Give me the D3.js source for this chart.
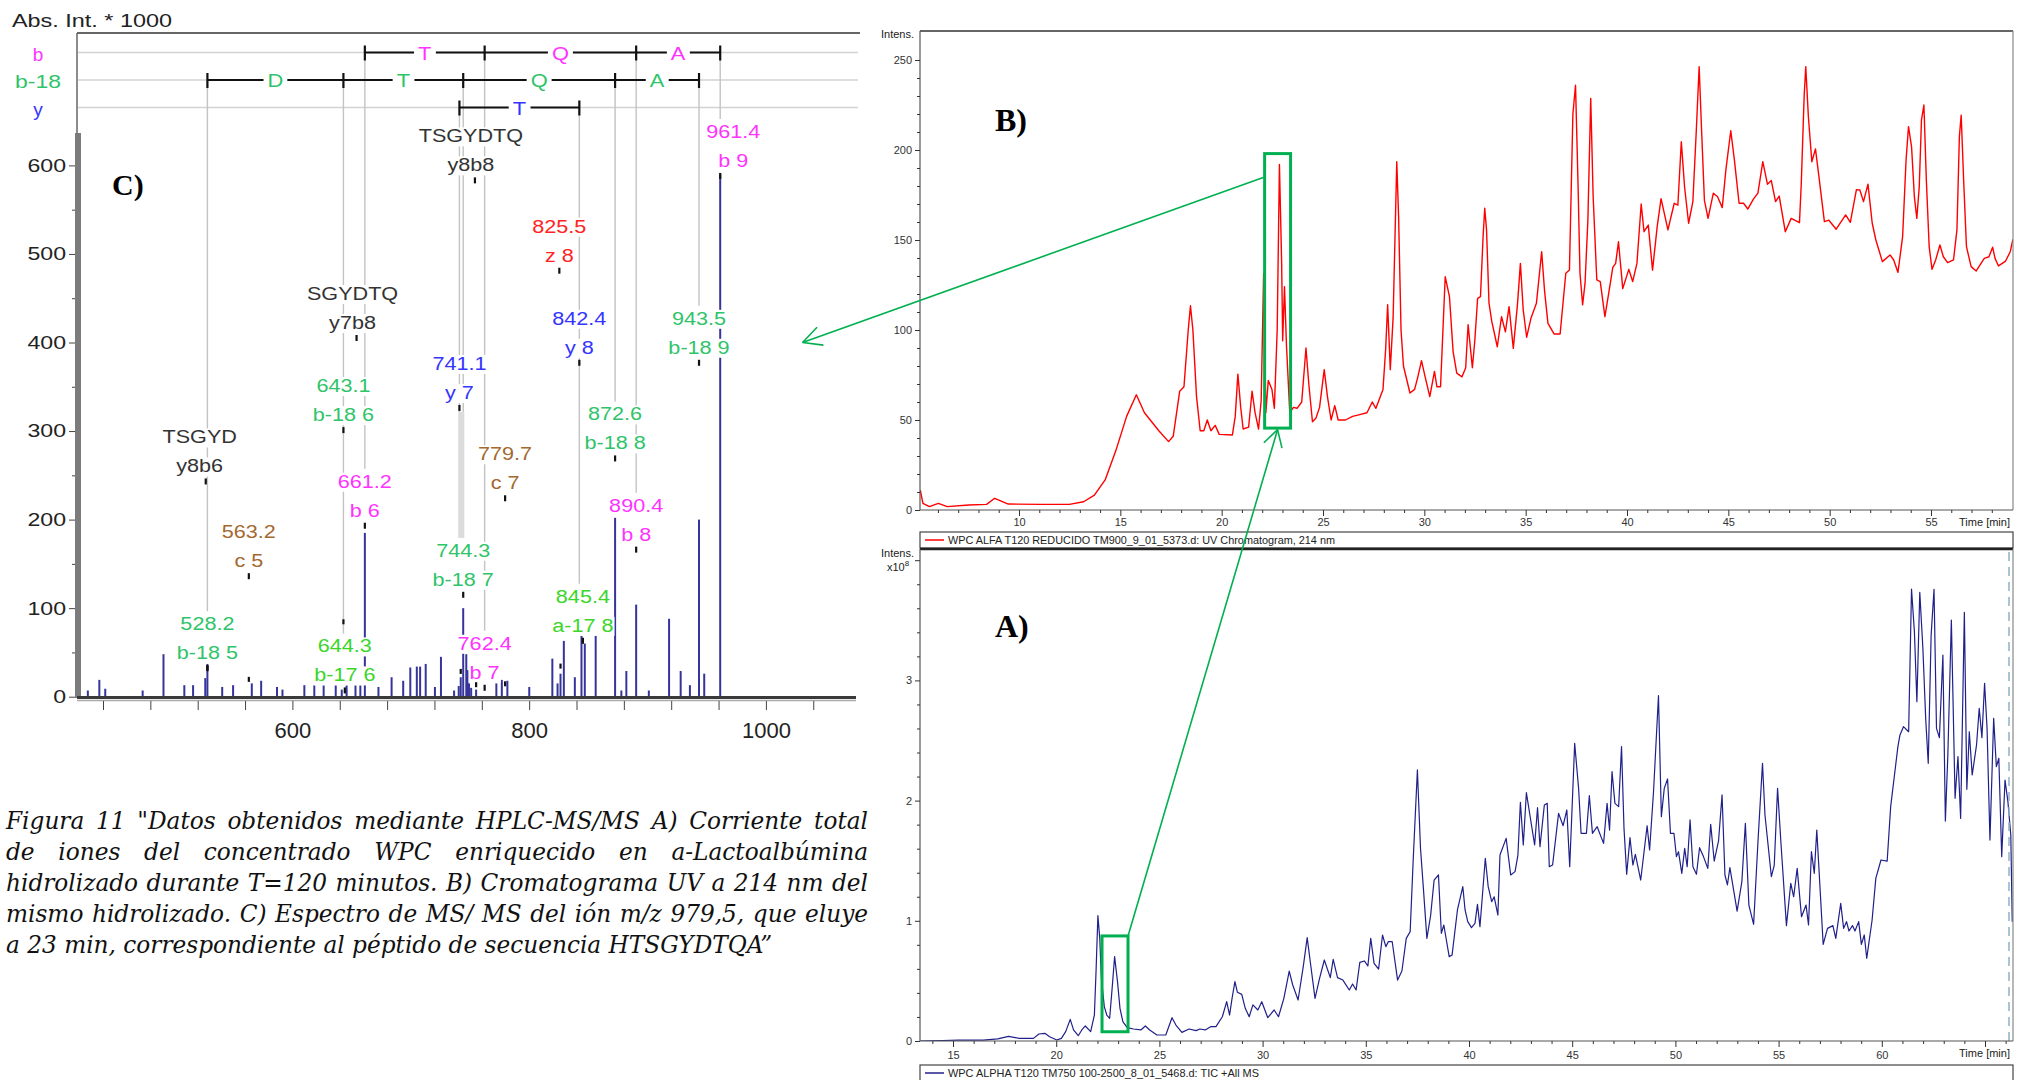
<!DOCTYPE html>
<html><head><meta charset="utf-8">
<script src="https://cdn.jsdelivr.net/npm/d3@7"></script>
<style>body{margin:0;background:#fff;}svg{display:block;}</style>
</head><body>
<script>
// ================= DATA =================
// Panel C: MS/MS spectrum (m/z, intensity x1000)
const ms2Mz  = [427.2,436.9,441.9,473.5,491.1,508.7,516.1,526.4,528.2,540.7,549.9,565.7,573.6,587.0,591.6,610.1,618.5,626.4,636.6,641.7,645.8,653.3,657.4,661.2,672.7,683.8,693.6,699.6,705.1,707.9,712.6,720.4,725.5,736.6,740.5,742.2,744.3,746.9,748.0,749.2,751.0,755.2,772.3,776.9,781.6,800.1,819.6,824.0,826.5,829.3,838.6,844.2,847.0,856.2,872.6,877.9,882.1,890.4,901.1,918.2,928.0,935.8,943.5,947.9,961.4];
const ms2Int = [7,19,9,7,48,13,13,21,37,11,13,15,18,11,8,13,13,13,13,8,13,13,13,185,11,22,18,33,34,34,37,11,45,7,12,22,100,48,30,15,10,8,15,19,18,11,43,15,26,63,22,69,60,69,202,7,29,104,7,88,29,13,200,26,590];

// sequence ladders
const ladderB     = [661.2, 762.4, 890.4, 961.4];
const ladderBRes  = ['T','Q','A'];
const ladderB18   = [528.2, 643.1, 744.3, 872.6, 943.5];
const ladderB18Res= ['D','T','Q','A'];
const ladderY     = [741.1, 842.4];
const ladderYRes  = ['T'];

// fragment annotations
const annMz     = [754.2, 961.4, 825.5, 654.2, 842.4, 943.5, 741.1, 643.1, 872.6, 526.8, 779.7, 661.2, 890.4, 563.2, 744.3, 845.4, 528.2, 644.3, 762.4];
const annLabelMz= [750.8, 972.4, 825.5, 650.8, 842.4, 943.5, 741.1, 643.1, 872.6, 521.7, 779.7, 661.2, 890.4, 563.2, 744.3, 845.4, 528.2, 644.3, 762.4];
const annTop    = ['TSGYDTQ','961.4','825.5','SGYDTQ','842.4','943.5','741.1','643.1','872.6','TSGYD','779.7','661.2','890.4','563.2','744.3','845.4','528.2','644.3','762.4'];
const annBottom = ['y8b8','b 9','z 8','y7b8','y 8','b-18 9','y 7','b-18 6','b-18 8','y8b6','c 7','b 6','b 8','c 5','b-18 7','a-17 8','b-18 5','b-17 6','b 7'];
const annType   = ['int','b','z','int','y','b18','y','b18','b18','int','c','b','b','c','b18','a17','b18','b17','b'];
const annLevel  = [626, 631, 524, 448, 420, 420, 369, 344, 312, 286, 267, 236, 209, 179, 158, 106, 75, 50, 53];

// leader lines from ladder to label
const leaderMz   = [528.2, 643.1, 661.2, 741.1, 744.3, 762.4, 842.4, 872.6, 890.4, 943.5, 961.4];
const leaderRow  = ['b-18','b-18','b','y','b-18','b','y','b-18','b','b-18','b'];
const leaderStop = ['528.2','644.3','661.2','744.3','744.3','762.4','845.4','872.6','890.4','943.5','961.4'];

// small peak marks
const dotMz  = [528.2, 563.2, 643.1, 742.2, 755.2, 779.7, 826.5, 845.4];
const dotInt = [32, 19, 84, 28, 13, 14, 34, 63];

const msXTicks = [600, 800, 1000];
const msYTicks = [0, 100, 200, 300, 400, 500, 600];

// Panel B: UV chromatogram 214 nm (time min, intensity)
const uvTime = [5.13,5.26,5.58,6.02,6.46,7.52,8.4,8.8,9.47,11.06,12.48,13.19,13.72,14.25,14.78,15.31,15.79,16.19,16.9,17.38,17.61,17.93,18.14,18.35,18.46,18.58,18.76,18.94,19.12,19.29,19.47,19.68,19.88,20.53,20.67,20.8,20.94,21.06,21.33,21.5,21.65,21.82,21.95,22.07,22.18,22.3,22.48,22.6,22.74,22.85,22.96,23.01,23.1,23.2,23.36,23.54,23.72,23.95,24.16,24.3,24.48,24.65,24.83,25.06,25.22,25.4,25.58,25.75,26.11,26.46,26.81,27.17,27.43,27.61,27.96,28.09,28.19,28.32,28.46,28.64,28.73,28.85,28.97,29.29,29.52,29.68,29.86,30.04,30.27,30.5,30.62,30.8,31.03,31.24,31.42,31.6,31.86,32.04,32.16,32.37,32.49,32.63,32.77,32.9,32.98,33.07,33.19,33.33,33.6,33.81,34.0,34.18,34.39,34.6,34.74,34.88,35.05,35.26,35.53,35.79,35.93,36.1,36.4,36.7,36.98,37.16,37.33,37.46,37.58,37.68,37.81,37.93,38.07,38.21,38.33,38.51,38.68,38.91,39.12,39.3,39.44,39.58,39.79,40.09,40.28,40.49,40.7,40.84,41.05,41.26,41.49,41.68,42.02,42.33,42.51,42.68,42.84,43.04,43.25,43.42,43.56,43.68,43.82,44.0,44.26,44.47,44.7,44.88,45.12,45.3,45.53,45.75,45.96,46.23,46.46,46.7,46.93,47.12,47.33,47.51,47.81,48.1,48.51,48.6,48.74,48.82,48.95,49.12,49.3,49.47,49.74,49.96,50.32,50.79,51.02,51.32,51.49,51.67,51.89,52.1,52.28,52.6,52.98,53.16,53.37,53.6,53.77,53.89,54.04,54.18,54.3,54.42,54.53,54.65,54.77,54.91,55.05,55.23,55.44,55.61,55.82,56.11,56.28,56.4,56.49,56.61,56.75,56.98,57.23,57.63,57.86,58.04,58.16,58.33,58.68,58.91,59.04];
const uvInt  = [11,3.7,1.9,3.7,1.9,2.8,3.1,6.5,3.3,3.1,3.1,4.6,8.3,16.7,33,52,64,54,44,38,41,66,68.5,100,113.5,100,63,44,44,50,44,47,42,41.7,52,75.5,57,45,46,66,54,45,61,131.5,54,72,67,56.5,100,192,137,94,124,91,54,57,56.5,60,90,70,49,51,57,78,63,50,58,50,50,52,53,54,60,56.5,67,89,114,78,107,193.5,163,100,80,65,67,74,83,74,63,77,68.5,68.5,129.6,118.5,88,76,74,79,103,79,94,117.6,118.5,152,167.6,155.6,115,104.6,90.7,107.4,99,113,89.8,114.8,137,111,96,106.5,114.8,143.5,122,103.7,97.8,97.8,131.5,133.3,220,236,183,131.5,114,126,161,228.7,174,127.8,126.9,107.4,122,134.8,137,149,123,133.7,126.9,137,170,154.6,158.3,133.3,157.4,173,155.6,170.4,169.4,204.6,179.6,159.3,171.3,211,246.3,211,172,162,176,174,168,189,210.7,194.4,170.4,170.4,167.2,172.6,176,193.5,181,183,171.3,174.4,154.6,162,159.6,181.5,229.6,246.3,218.5,193.5,200.6,185.2,160.2,161,156,163.9,159.8,178,177.8,171.3,181,159.3,150,138,141.7,138.9,132,151.9,194.4,213,201.9,174,162,179.6,216.7,225,183.3,146.3,133.7,138.9,147.2,140.7,137.4,138.9,155.6,207.4,219.4,183.3,146.3,135.2,132.8,139.8,140.7,146,139.8,135.6,138.3,143.5,150.4];
const uvXTicks = [10,15,20,25,30,35,40,45,50,55];
const uvYTicks = [0,50,100,150,200,250];

// Panel A: TIC (time min, intensity x10^8)
const ticTime = [13.4,14.5,15.26,16.47,17.17,17.69,18.21,18.9,19.16,19.45,19.68,20.03,20.25,20.46,20.68,20.84,21.07,21.24,21.41,21.67,21.85,21.93,22.02,22.11,22.19,22.33,22.45,22.59,22.71,22.83,22.97,23.09,23.23,23.44,23.75,24.1,24.32,24.53,24.88,25.31,25.61,25.8,26.09,26.44,26.78,26.96,27.22,27.48,27.74,28.05,28.26,28.4,28.52,28.66,28.78,28.99,29.16,29.35,29.53,29.77,29.96,30.25,30.56,30.77,31.03,31.29,31.46,31.72,31.98,32.16,32.33,32.54,32.76,32.99,33.28,33.42,33.63,33.89,34.2,34.36,34.53,34.71,34.93,35.1,35.24,35.4,35.62,35.81,35.97,36.09,36.28,36.54,36.75,36.96,37.15,37.3,37.5,37.65,37.79,37.96,38.14,38.31,38.52,38.66,38.78,39.04,39.18,39.44,39.7,39.81,39.94,40.12,40.29,40.41,40.53,40.64,40.79,40.93,41.1,41.22,41.4,41.5,41.8,42.02,42.23,42.37,42.49,42.63,42.78,42.95,43.18,43.32,43.44,43.65,43.79,43.89,44.05,44.34,44.56,44.74,44.88,45.12,45.31,45.43,45.69,45.83,45.98,46.21,46.52,46.69,46.81,46.93,47.07,47.25,47.39,47.51,47.64,47.8,47.94,48.06,48.32,48.63,48.75,48.94,49.18,49.32,49.46,49.62,49.76,49.93,50.05,50.15,50.31,50.45,50.57,50.71,50.85,51.02,51.17,51.36,51.57,51.71,51.88,52.09,52.26,52.4,52.52,52.64,52.99,53.22,53.39,53.56,53.79,54.0,54.22,54.34,54.65,54.79,54.95,55.12,55.38,55.59,55.73,55.9,56.11,56.33,56.45,56.59,56.73,56.85,57.16,57.37,57.63,57.77,58.01,58.15,58.29,58.41,58.58,58.7,58.88,59.01,59.15,59.27,59.53,59.71,59.96,60.26,60.43,60.78,60.88,61.05,61.3,61.44,61.58,61.7,61.84,61.99,62.13,62.25,62.39,62.53,62.65,62.79,62.96,63.08,63.2,63.37,63.55,63.69,63.82,64.0,64.12,64.24,64.38,64.59,64.72,64.85,64.98,65.1,65.24,65.42,65.55,65.67,65.81,65.97,66.11,66.25,66.32];
const ticInt  = [0,0.004,0.008,0.008,0.017,0.039,0.022,0.022,0.058,0.064,0.036,0.008,0.022,0.078,0.18,0.092,0.044,0.092,0.125,0.078,0.216,0.577,1.043,0.854,0.521,0.286,0.216,0.189,0.438,0.702,0.494,0.272,0.161,0.111,0.1,0.092,0.125,0.092,0.05,0.05,0.194,0.133,0.072,0.1,0.086,0.1,0.092,0.119,0.119,0.202,0.327,0.216,0.355,0.494,0.405,0.388,0.272,0.202,0.3,0.258,0.327,0.194,0.258,0.202,0.355,0.582,0.466,0.341,0.632,0.86,0.632,0.355,0.521,0.674,0.527,0.679,0.527,0.507,0.424,0.474,0.424,0.654,0.666,0.624,0.854,0.646,0.599,0.882,0.785,0.826,0.826,0.507,0.582,0.854,0.91,1.52,2.255,1.603,1.27,0.854,1.043,1.339,1.381,0.896,0.965,0.702,0.715,1.09,1.284,1.09,0.993,0.943,0.979,1.137,0.951,1.187,1.52,1.284,1.159,1.2,1.048,1.547,1.686,1.381,1.409,1.547,1.986,1.631,2.066,1.88,1.631,1.941,1.617,1.963,1.977,1.45,1.464,1.894,1.791,1.922,1.45,2.476,2.102,1.728,1.728,2.041,1.728,1.783,1.644,1.977,1.755,2.241,1.977,1.95,2.449,1.769,1.387,1.692,1.464,1.553,1.339,1.791,1.589,2.074,2.873,1.866,2.102,2.18,1.728,1.728,1.534,1.575,1.395,1.603,1.45,1.839,1.45,1.387,1.608,1.534,1.436,1.803,1.497,1.664,2.047,1.381,1.298,1.442,1.081,1.326,1.811,1.131,0.971,1.658,2.31,1.88,1.367,1.464,2.102,1.631,0.96,1.312,1.2,1.436,1.034,1.131,0.965,1.575,1.395,1.755,0.804,0.937,0.96,0.854,1.145,0.937,0.993,0.915,0.96,0.915,0.993,0.804,0.882,0.688,1.007,1.353,1.506,1.497,1.95,2.449,2.546,2.615,2.573,3.76,3.405,2.823,3.733,3.267,2.67,2.31,3.378,3.758,2.601,2.524,3.211,1.83,2.379,3.502,2.019,2.366,1.852,3.566,2.094,2.573,2.213,2.463,2.768,2.524,2.976,2.601,1.672,2.684,2.282,2.352,1.534,2.171,1.991,1.714,0.993];
const ticXTicks = [15,20,25,30,35,40,45,50,55,60];
const ticYTicks = [0,1,2,3];

// highlighted region (peak eluting at ~23 min)
const hlTimeB = [22.12, 23.40], hlIntB = [45.5, 198];
const hlTimeA = [22.22, 23.48], hlIntA = [0.077, 0.874];
const hlLinkB = 185;                    // intensity where link leaves panel B box
const hlTargetC = [1031, 400];          // m/z, intensity of arrow tip in panel C

const legendB = 'WPC ALFA T120 REDUCIDO TM900_9_01_5373.d: UV Chromatogram, 214 nm';
const legendA = 'WPC ALPHA T120 TM750 100-2500_8_01_5468.d: TIC +All MS';
const caption = [
  'Figura 11 "Datos obtenidos mediante HPLC-MS/MS A) Corriente total',
  'de iones del concentrado WPC enriquecido en a-Lactoalbúmina',
  'hidrolizado durante T=120 minutos. B) Cromatograma UV a 214 nm del',
  'mismo hidrolizado. C) Espectro de MS/ MS del ión m/z 979,5, que eluye',
  'a 23 min, correspondiente al péptido de secuencia HTSGYDTQA”'
];

// ================= DRAWING =================
const SANS = '"Liberation Sans", Arial, sans-serif';
const SERIF = '"Liberation Serif", "Times New Roman", serif';
const svg = d3.select('body').append('svg').attr('width', 2022).attr('height', 1080);

function stretch(sel, f) {
  sel.each(function () {
    const L = this.getComputedTextLength();
    if (L > 0) d3.select(this).attr('textLength', L * f).attr('lengthAdjust', 'spacingAndGlyphs');
  });
}
function arrowHead(g, tx, ty, fx, fy, len, spread, color, w) {
  const a = Math.atan2(fy - ty, fx - tx);
  [a - spread, a + spread].forEach(b => {
    g.append('line').attr('x1', tx).attr('y1', ty)
      .attr('x2', tx + len * Math.cos(b)).attr('y2', ty + len * Math.sin(b))
      .attr('stroke', color).attr('stroke-width', w);
  });
}

// ---------- Panel C ----------
const xC = d3.scaleLinear().domain([600, 1000]).range([292.4, 765.9]);
const yC = d3.scaleLinear().domain([0, 600]).range([696.7, 165.4]);
const rowY = {'b': 52.5, 'b-18': 80, 'y': 107.5};
const rowColor = {'b': '#ff33ff', 'b-18': '#2fc46a', 'y': '#3535ff'};
const typeColor = {int: '#333333', b: '#ff33ff', b18: '#2fc46a', z: '#ff2424', y: '#3535ff', c: '#a3692f', a17: '#3ad62a', b17: '#3ad62a'};
const gC = svg.append('g').attr('font-family', SANS);

// row guide lines
Object.keys(rowY).forEach(r => {
  gC.append('line').attr('x1', 78).attr('x2', 858).attr('y1', rowY[r]).attr('y2', rowY[r])
    .attr('stroke', '#d2d2d2').attr('stroke-width', 1.6);
});

// leader lines
const labelBase = i => yC(annLevel[i]);
leaderMz.forEach((m, i) => {
  const j = annTop.indexOf(leaderStop[i]);
  gC.append('line').attr('x1', xC(m)).attr('x2', xC(m))
    .attr('y1', rowY[leaderRow[i]]).attr('y2', labelBase(j) - 19)
    .attr('stroke', '#c3c3c3').attr('stroke-width', 1.4);
});
// wide light band at 741-744
gC.append('line').attr('x1', xC(742.7)).attr('x2', xC(742.7))
  .attr('y1', labelBase(annTop.indexOf('741.1')) + 42).attr('y2', labelBase(annTop.indexOf('744.3')) - 19)
  .attr('stroke', '#dcdcdc').attr('stroke-width', 6);

// peaks
gC.selectAll('line.pk').data(ms2Mz).join('line').attr('class', 'pk')
  .attr('x1', d => xC(d)).attr('x2', d => xC(d))
  .attr('y1', yC(0)).attr('y2', (d, i) => yC(ms2Int[i]))
  .attr('stroke', '#34349a').attr('stroke-width', 2);

// annotations (each text line on its own white box)
annMz.forEach((m, i) => {
  const xl = xC(annLabelMz[i]), y1 = labelBase(i);
  const col = typeColor[annType[i]];
  [annTop[i], annBottom[i]].forEach((s, k) => {
    const g = gC.append('g');
    const t = g.append('text').attr('x', xl).attr('y', y1 + 29 * k).attr('text-anchor', 'middle')
      .attr('font-size', 18).attr('fill', col).text(s);
    stretch(t, 1.2);
    const bb = t.node().getBBox();
    g.insert('rect', ':first-child').attr('x', bb.x - 1).attr('y', y1 + 29 * k - 15)
      .attr('width', bb.width + 2).attr('height', 19).attr('fill', '#fff');
  });
  gC.append('rect').attr('x', xC(m) - 1.1).attr('y', y1 + 35).attr('width', 2.2).attr('height', 6).attr('fill', '#111');
});
dotMz.forEach((m, i) => {
  gC.append('rect').attr('x', xC(m) - 1.1).attr('y', yC(dotInt[i]) - 3).attr('width', 2.2).attr('height', 5).attr('fill', '#111');
});

// ladders
function ladder(row, ms, res) {
  const y = rowY[row];
  for (let k = 0; k < ms.length - 1; k++) {
    gC.append('line').attr('x1', xC(ms[k])).attr('x2', xC(ms[k + 1])).attr('y1', y).attr('y2', y)
      .attr('stroke', '#111').attr('stroke-width', 2.2);
  }
  ms.forEach(m => gC.append('line').attr('x1', xC(m)).attr('x2', xC(m)).attr('y1', y - 7).attr('y2', y + 8)
    .attr('stroke', '#111').attr('stroke-width', 2.2));
  res.forEach((r, k) => {
    const xm = (xC(ms[k]) + xC(ms[k + 1])) / 2;
    const g = gC.append('g');
    const t = g.append('text').attr('x', xm).attr('y', y + 7).attr('text-anchor', 'middle')
      .attr('font-size', 19).attr('fill', rowColor[row]).text(r);
    stretch(t, 1.15);
    const bb = t.node().getBBox();
    g.insert('rect', ':first-child').attr('x', bb.x - 4).attr('y', y - 3).attr('width', bb.width + 8).attr('height', 6).attr('fill', '#fff');
  });
  const lab = gC.append('text').attr('x', 38).attr('y', y + 8).attr('text-anchor', 'middle')
    .attr('font-size', 19).attr('fill', rowColor[row]).text(row);
  if (row === 'b-18') lab.attr('textLength', 46).attr('lengthAdjust', 'spacingAndGlyphs');
}
ladder('b', ladderB, ladderBRes);
ladder('b-18', ladderB18, ladderB18Res);
ladder('y', ladderY, ladderYRes);

// frame and axes of C
gC.append('line').attr('x1', 77).attr('x2', 860).attr('y1', 33).attr('y2', 33).attr('stroke', '#666').attr('stroke-width', 2);
gC.append('line').attr('x1', 77).attr('x2', 77).attr('y1', 33).attr('y2', 134).attr('stroke', '#666').attr('stroke-width', 1.5);
gC.append('rect').attr('x', 75).attr('y', 133).attr('width', 6).attr('height', 565).attr('fill', '#7c7c7c');
const yAxC = gC.append('g').attr('transform', 'translate(75,0)')
  .call(d3.axisLeft(yC).tickValues(msYTicks).tickSize(6).tickPadding(3));
yAxC.select('.domain').remove();
yAxC.attr('font-size', 18.5).attr('font-family', SANS).attr('color', '#444');
stretch(yAxC.selectAll('text').attr('fill', '#222'), 1.25);
const yAxCm = gC.append('g').attr('transform', 'translate(75,0)')
  .call(d3.axisLeft(yC).tickValues(d3.range(50, 600, 100)).tickSize(3).tickFormat(''));
yAxCm.select('.domain').remove(); yAxCm.attr('color', '#444');
gC.append('line').attr('x1', 77).attr('x2', 856).attr('y1', 697.5).attr('y2', 697.5).attr('stroke', '#3a3a3a').attr('stroke-width', 3);
gC.append('line').attr('x1', 77).attr('x2', 856).attr('y1', 700.5).attr('y2', 700.5).attr('stroke', '#aaa').attr('stroke-width', 1.5);
const xAxC = gC.append('g').attr('transform', 'translate(0,701)')
  .call(d3.axisBottom(xC).tickValues(d3.range(440, 1041, 40)).tickSize(9).tickPadding(12)
    .tickFormat(d => msXTicks.includes(d) ? d : ''));
xAxC.select('.domain').remove();
xAxC.attr('font-size', 22).attr('font-family', SANS).attr('color', '#444');
xAxC.selectAll('text').attr('fill', '#222');
stretch(gC.append('text').attr('x', 12).attr('y', 27).attr('font-size', 18).attr('fill', '#222').text('Abs. Int. * 1000'), 1.3);
gC.append('text').attr('x', 112).attr('y', 195).attr('font-family', SERIF).attr('font-weight', 'bold')
  .attr('font-size', 30).attr('fill', '#000').text('C)');

// ---------- Panel B ----------
const fB = {l: 920, r: 2013, t: 31, b: 510};
const xB = d3.scaleLinear().domain([10, 55]).range([1019, 1931]);
const yB = d3.scaleLinear().domain([0, 250]).range([510, 60]);
const gB = svg.append('g').attr('font-family', SANS);
svg.append('clipPath').attr('id', 'clipB').append('rect').attr('x', fB.l).attr('y', fB.t).attr('width', fB.r - fB.l).attr('height', fB.b - fB.t);
gB.append('path').datum(uvTime.map((t, i) => [t, uvInt[i]])).attr('clip-path', 'url(#clipB)')
  .attr('d', d3.line().x(d => xB(d[0])).y(d => yB(d[1])))
  .attr('fill', 'none').attr('stroke', '#ff0000').attr('stroke-width', 1.4).attr('stroke-linejoin', 'round');
gB.append('line').attr('x1', fB.l).attr('x2', fB.r).attr('y1', fB.t).attr('y2', fB.t).attr('stroke', '#666').attr('stroke-width', 2);
gB.append('line').attr('x1', fB.r).attr('x2', fB.r).attr('y1', fB.t).attr('y2', fB.b).attr('stroke', '#888').attr('stroke-width', 1.2);
gB.append('line').attr('x1', fB.l).attr('x2', fB.l).attr('y1', fB.t).attr('y2', fB.b).attr('stroke', '#555').attr('stroke-width', 1.2);
gB.append('line').attr('x1', fB.l).attr('x2', fB.r).attr('y1', fB.b).attr('y2', fB.b).attr('stroke', '#555').attr('stroke-width', 1.2);
function chromAxes(g, x, y, yTop, bottom, xMaj, xMin, yMaj, yMinVals, yLab, xPad) {
  const ya = g.append('g').attr('transform', 'translate(920,0)')
    .call(d3.axisLeft(y).tickValues(yMaj).tickSize(5).tickPadding(3).tickFormat(d => yLab.includes(d) ? d : ''));
  ya.select('.domain').remove(); ya.attr('font-size', 11).attr('font-family', SANS).attr('color', '#333');
  const ym = g.append('g').attr('transform', 'translate(920,0)')
    .call(d3.axisLeft(y).tickValues(yMinVals).tickSize(3).tickFormat(''));
  ym.select('.domain').remove(); ym.attr('color', '#333');
  const xa = g.append('g').attr('transform', `translate(0,${bottom})`)
    .call(d3.axisBottom(x).tickValues(xMaj).tickSize(6).tickPadding(xPad).tickFormat(d => d <= 60 ? d : ''));
  xa.select('.domain').remove(); xa.attr('font-size', 11).attr('font-family', SANS).attr('color', '#333');
  const xm = g.append('g').attr('transform', `translate(0,${bottom})`)
    .call(d3.axisBottom(x).tickValues(xMin).tickSize(3).tickFormat(''));
  xm.select('.domain').remove(); xm.attr('color', '#333');
  g.append('text').attr('x', 2010).attr('y', bottom + 15.5).attr('text-anchor', 'end').attr('font-size', 11)
    .attr('fill', '#222').text('Time [min]');
}
chromAxes(gB, xB, yB, fB.t, fB.b, uvXTicks, d3.range(6, 59).filter(v => v % 5), uvYTicks,
  d3.range(0, 251, 10).filter(v => v % 50), uvYTicks, 2);
gB.append('text').attr('x', 881).attr('y', 38).attr('font-size', 11).attr('fill', '#222').text('Intens.');
// legend B
gB.append('rect').attr('x', 920).attr('y', 532).attr('width', 1093).attr('height', 16).attr('fill', '#fff').attr('stroke', '#444').attr('stroke-width', 1.2);
gB.append('line').attr('x1', 925).attr('x2', 944).attr('y1', 540).attr('y2', 540).attr('stroke', '#ff0000').attr('stroke-width', 1.5);
gB.append('text').attr('x', 948).attr('y', 544).attr('font-size', 11).attr('fill', '#222')
  .attr('textLength', 387).attr('lengthAdjust', 'spacingAndGlyphs').text(legendB);
gB.append('text').attr('x', 995).attr('y', 131).attr('font-family', SERIF).attr('font-weight', 'bold')
  .attr('font-size', 32).attr('fill', '#000').text('B)');

// ---------- Panel A ----------
const fA = {l: 920, r: 2013, t: 549, b: 1041};
const xA = d3.scaleLinear().domain([15, 60]).range([953, 1881.8]);
const yA = d3.scaleLinear().domain([0, 3]).range([1041, 680.4]);
const gA = svg.append('g').attr('font-family', SANS);
svg.append('clipPath').attr('id', 'clipA').append('rect').attr('x', fA.l).attr('y', fA.t).attr('width', fA.r - fA.l).attr('height', fA.b - fA.t);
gA.append('path').datum(ticTime.map((t, i) => [t, ticInt[i]])).attr('clip-path', 'url(#clipA)')
  .attr('d', d3.line().x(d => xA(d[0])).y(d => yA(d[1])))
  .attr('fill', 'none').attr('stroke', '#20208a').attr('stroke-width', 1.2).attr('stroke-linejoin', 'round');
gA.append('line').attr('x1', fA.l).attr('x2', fA.r).attr('y1', fA.t).attr('y2', fA.t).attr('stroke', '#222').attr('stroke-width', 2.5);
gA.append('line').attr('x1', fA.l).attr('x2', fA.l).attr('y1', fA.t).attr('y2', fA.b).attr('stroke', '#555').attr('stroke-width', 1.2);
gA.append('line').attr('x1', fA.r).attr('x2', fA.r).attr('y1', fA.t).attr('y2', fA.b).attr('stroke', '#888').attr('stroke-width', 1.2);
gA.append('line').attr('x1', 2009).attr('x2', 2009).attr('y1', fA.t + 3).attr('y2', fA.b).attr('stroke', '#8fb0c8').attr('stroke-width', 1.5).attr('stroke-dasharray', '9,6');
gA.append('line').attr('x1', fA.l).attr('x2', fA.r).attr('y1', fA.b).attr('y2', fA.b).attr('stroke', '#555').attr('stroke-width', 1.2);
chromAxes(gA, xA, yA, fA.t, fA.b, d3.range(15, 66, 5), d3.range(14, 67).filter(v => v % 5),
  [0, 1, 2, 3, 4], d3.range(1, 20).map(v => v / 5).filter(v => Math.abs(v - Math.round(v)) > 1e-6), ticYTicks, 4);
gA.append('text').attr('x', 881).attr('y', 557).attr('font-size', 11).attr('fill', '#222').text('Intens.');
const xt = gA.append('text').attr('x', 887).attr('y', 571).attr('font-size', 11).attr('fill', '#222');
xt.append('tspan').text('x10');
xt.append('tspan').attr('dy', -5).attr('font-size', 8).text('8');
gA.append('rect').attr('x', 920).attr('y', 1065).attr('width', 1093).attr('height', 22).attr('fill', '#fff').attr('stroke', '#444').attr('stroke-width', 1.2);
gA.append('line').attr('x1', 925).attr('x2', 944).attr('y1', 1073).attr('y2', 1073).attr('stroke', '#20208a').attr('stroke-width', 1.5);
gA.append('text').attr('x', 948).attr('y', 1077).attr('font-size', 11).attr('fill', '#222')
  .attr('textLength', 311).attr('lengthAdjust', 'spacingAndGlyphs').text(legendA);
gA.append('text').attr('x', 995).attr('y', 637).attr('font-family', SERIF).attr('font-weight', 'bold')
  .attr('font-size', 32).attr('fill', '#000').text('A)');

// ---------- highlight boxes & connectors ----------
const GREEN = '#00b050';
const gH = svg.append('g');
gH.append('rect').attr('x', xB(hlTimeB[0])).attr('y', yB(hlIntB[1]))
  .attr('width', xB(hlTimeB[1]) - xB(hlTimeB[0])).attr('height', yB(hlIntB[0]) - yB(hlIntB[1]))
  .attr('fill', 'none').attr('stroke', GREEN).attr('stroke-width', 3);
gH.append('rect').attr('x', xA(hlTimeA[0])).attr('y', yA(hlIntA[1]))
  .attr('width', xA(hlTimeA[1]) - xA(hlTimeA[0])).attr('height', yA(hlIntA[0]) - yA(hlIntA[1]))
  .attr('fill', 'none').attr('stroke', GREEN).attr('stroke-width', 3);
// B -> C
const bx0 = xB(hlTimeB[0]), by0 = yB(hlLinkB);
const cx = xC(hlTargetC[0]), cy = yC(hlTargetC[1]);
gH.append('line').attr('x1', bx0).attr('y1', by0).attr('x2', cx).attr('y2', cy).attr('stroke', GREEN).attr('stroke-width', 1.6);
arrowHead(gH, cx, cy, bx0, by0, 21, 0.47, GREEN, 1.6);
// A -> B
const ax0 = xA(hlTimeA[1]), ay0 = yA(hlIntA[1]);
const btx = xB((hlTimeB[0] + hlTimeB[1]) / 2), bty = yB(hlIntB[0]) + 1.5;
gH.append('line').attr('x1', ax0).attr('y1', ay0).attr('x2', btx).attr('y2', bty).attr('stroke', GREEN).attr('stroke-width', 1.6);
arrowHead(gH, btx, bty, ax0, ay0, 19, 0.52, GREEN, 1.6);

// ---------- caption ----------
const gT = svg.append('g').attr('font-family', '"DejaVu Serif", "Liberation Serif", serif').attr('font-style', 'italic').attr('fill', '#111');
const probe = gT.append('text').attr('font-size', 20);
const meas = s => { probe.text(s); return probe.node().getComputedTextLength(); };
let fs = 20 * 766 / meas(caption[4]);
caption.slice(0, 4).forEach(s => { fs = Math.min(fs, 20 * 856 / meas(s)); });
probe.attr('font-size', fs);
const spaceW = meas('a a') - meas('aa');
caption.forEach((line, i) => {
  const words = line.split(' ');
  const ws = words.map(w => meas(w));
  const total = d3.sum(ws);
  const gap = i < 4 ? (862 - total) / (words.length - 1) : spaceW;
  let x = 6;
  words.forEach((w, k) => {
    gT.append('text').attr('x', x).attr('y', 829 + i * 30.9).attr('font-size', fs).text(w);
    x += ws[k] + gap;
  });
});
probe.remove();
</script>
</body></html>
